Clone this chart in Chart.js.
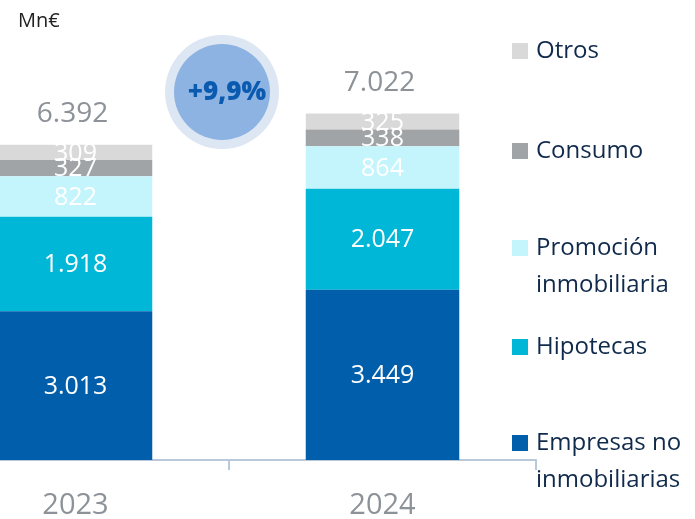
<!DOCTYPE html>
<html>
<head>
<meta charset="utf-8">
<script src="https://cdn.jsdelivr.net/npm/chart.js@4.4.1/dist/chart.umd.min.js"></script>
<style>
  html, body { margin: 0; padding: 0; background: #fff; overflow: hidden; }
  #wrap { position: absolute; left: -78px; top: 0; width: 773px; height: 541px; }
</style>
</head>
<body>
<div id="wrap"><canvas id="loansChart"></canvas></div>
<script>
// Data (Mn€)
const years = ['2023', '2024'];
const empresas = [3013, 3449];
const hipotecas = [1918, 2047];
const promocion = [822, 864];
const consumo = [327, 338];
const otros = [309, 325];
const totals = [6392, 7022];
const growthLabel = '+9,9%';
const unitLabel = 'Mn€';

const SHIFT = 78; // canvas is shifted left so the first bar is clipped like in the picture
const FONT = '"Open Sans", sans-serif';

// Format numbers with a dot as thousands separator
function fmt(v) {
    return String(v).replace(/\B(?=(\d{3})+(?!\d))/g, '.');
}

// Draws values, totals, growth bubble, unit label and the side legend
const decorations = {
    id: 'decorations',
    afterDatasetsDraw(chart) {
        const ctx = chart.ctx;
        ctx.save();
        ctx.textAlign = 'center';
        ctx.textBaseline = 'middle';

        // values inside each segment
        ctx.font = '400 25px ' + FONT;
        ctx.fillStyle = '#ffffff';
        chart.data.datasets.forEach((ds, i) => {
            chart.getDatasetMeta(i).data.forEach((bar, j) => {
                ctx.fillText(fmt(ds.data[j]), bar.x, (bar.y + bar.base) / 2 + 1);
            });
        });

        // totals above the bars
        const yScale = chart.scales.y;
        const xScale = chart.scales.x;
        ctx.font = '400 28px ' + FONT;
        ctx.fillStyle = '#8c9297';
        totals.forEach((t, j) => {
            ctx.fillText(fmt(t), xScale.getPixelForValue(j) - 3, yScale.getPixelForValue(t) - 31);
        });

        // growth bubble
        const cx = 222 + SHIFT, cy = 92;
        ctx.beginPath();
        ctx.arc(cx, cy, 57, 0, Math.PI * 2);
        ctx.fillStyle = '#dde6f3';
        ctx.fill();
        ctx.beginPath();
        ctx.arc(cx, cy, 48, 0, Math.PI * 2);
        ctx.fillStyle = '#8db3e2';
        ctx.fill();
        ctx.font = '800 26px ' + FONT;
        ctx.fillStyle = '#0a5bb0';
        ctx.fillText(growthLabel, cx + 5, cy + 1);

        // unit
        ctx.textAlign = 'left';
        ctx.font = '400 20px ' + FONT;
        ctx.fillStyle = '#222222';
        ctx.fillText(unitLabel, 18 + SHIFT, 21);

        // legend (top to bottom = top of stack to bottom)
        const itemY = [51, 151, 248, 347, 443];
        const items = chart.data.datasets.slice().reverse();
        ctx.font = '400 24px ' + FONT;
        items.forEach((ds, k) => {
            const y = itemY[k];
            ctx.fillStyle = ds.backgroundColor;
            ctx.fillRect(512 + SHIFT, y - 8, 16, 16);
            ctx.fillStyle = '#102a4c';
            const lines = Array.isArray(ds.label) ? ds.label : [ds.label];
            lines.forEach((ln, n) => ctx.fillText(ln, 536 + SHIFT, y + n * 37));
        });
        ctx.restore();
    }
};

const ctx = document.getElementById('loansChart').getContext('2d');
const loansChart = new Chart(ctx, {
    type: 'bar',
    data: {
        labels: years,
        datasets: [
            { label: ['Empresas no', 'inmobiliarias'], data: empresas, backgroundColor: '#005eab' },
            { label: 'Hipotecas', data: hipotecas, backgroundColor: '#00b7d7' },
            { label: ['Promoción', 'inmobiliaria'], data: promocion, backgroundColor: '#c4f5fd' },
            { label: 'Consumo', data: consumo, backgroundColor: '#a0a4a6' },
            { label: 'Otros', data: otros, backgroundColor: '#d9d9d9' }
        ]
    },
    options: {
        responsive: true,
        maintainAspectRatio: false,
        animation: false,
        events: [],
        layout: { padding: { left: 0, right: 159, top: 16, bottom: 0 } },
        datasets: {
            bar: { categoryPercentage: 1, barPercentage: 0.5, borderWidth: 0 }
        },
        plugins: {
            legend: { display: false },
            tooltip: { enabled: false }
        },
        scales: {
            x: {
                stacked: true,
                grid: { drawOnChartArea: false, drawTicks: true, tickLength: 10, color: '#b9c9dc', lineWidth: 2 },
                border: { display: true, color: '#b9c9dc', width: 2 },
                ticks: {
                    color: '#8c9297',
                    padding: 21,
                    font: { family: FONT, size: 29, lineHeight: 1 }
                }
            },
            y: {
                stacked: true,
                display: false,
                min: 0,
                max: 9000
            }
        }
    },
    plugins: [decorations]
});
</script>
</body>
</html>
